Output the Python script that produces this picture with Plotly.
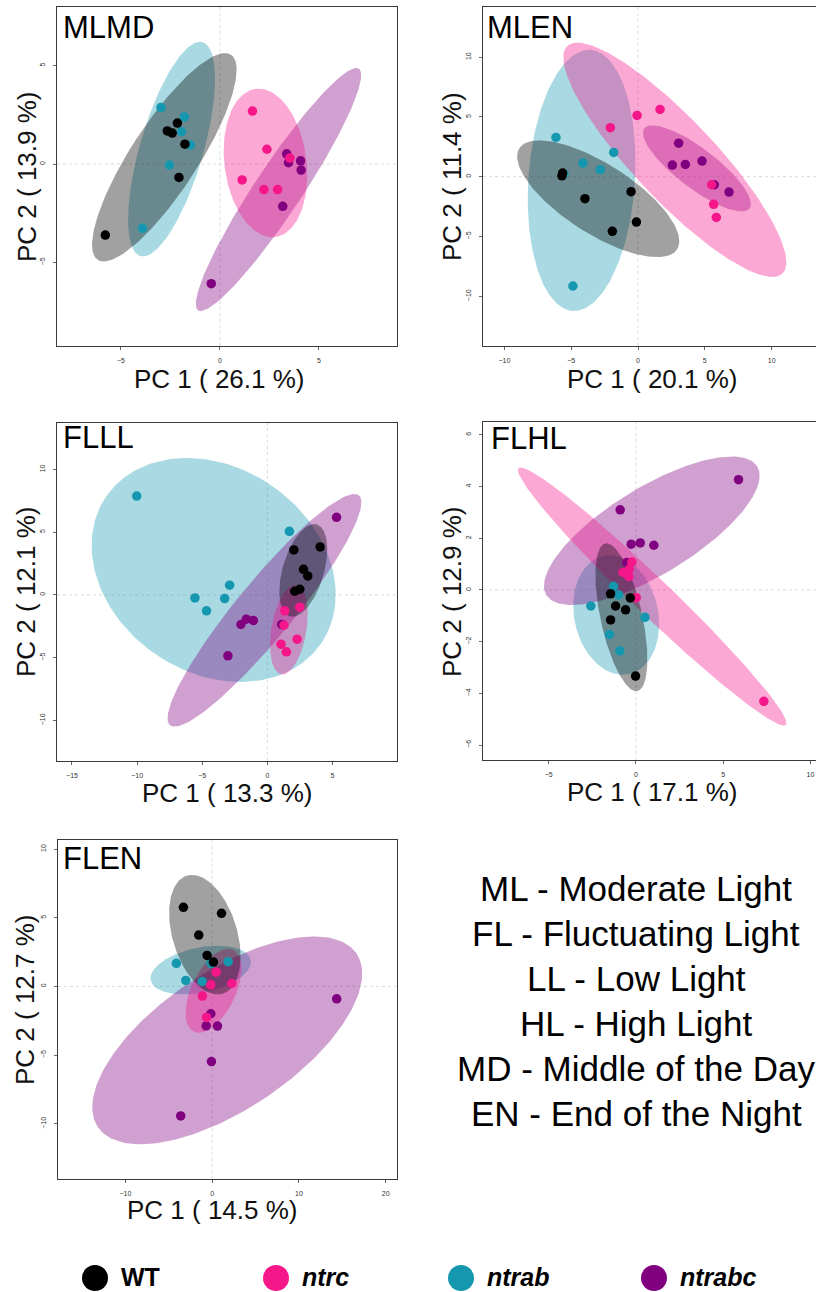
import numpy as np
import plotly.graph_objects as go

W, H = 816, 1292

groups = ["WT", "ntrc", "ntrab", "ntrabc"]
group_colors = {"WT": "#000000", "ntrc": "#F5168A", "ntrab": "#1597B0", "ntrabc": "#800080"}
# groups are drawn in sorted factor order, so WT ends up on top
draw_order = ["ntrab", "ntrabc", "ntrc", "WT"]
FILL_ALPHA = 0.37

panel_names = ["MLMD", "MLEN", "FLLL", "FLHL", "FLEN"]
pc1_var = [26.1, 20.1, 13.3, 17.1, 14.5]
pc2_var = [13.9, 11.4, 12.1, 12.9, 12.7]

# ---- PCA scores (PC1, PC2) per condition and genotype ----
mlmd_wt_x = [-5.79, -2.66, -2.41, -2.15, -1.77, -2.07]
mlmd_wt_y = [-3.61, 1.68, 1.57, 2.08, 1.01, -0.68]
mlmd_ntrc_x = [1.64, 2.37, 1.12, 2.22, 2.91, 3.53]
mlmd_ntrc_y = [2.69, 0.75, -0.81, -1.30, -1.30, 0.30]
mlmd_ntrab_x = [-2.98, -1.80, -1.94, -1.49, -2.55, -3.91]
mlmd_ntrab_y = [2.87, 2.39, 1.64, 0.96, -0.05, -3.27]
mlmd_ntrabc_x = [3.37, 3.46, 4.07, 4.10, 3.17, -0.44]
mlmd_ntrabc_y = [0.52, 0.07, 0.16, -0.31, -2.15, -6.08]

mlen_wt_x = [-5.64, -5.69, -3.97, -1.92, -0.52, -0.12]
mlen_wt_y = [0.31, 0.08, -1.84, -4.57, -1.25, -3.79]
mlen_ntrc_x = [-2.07, -0.07, 1.65, 5.51, 5.66, 5.86]
mlen_ntrc_y = [4.10, 5.13, 5.63, -0.67, -2.31, -3.40]
mlen_ntrab_x = [-6.14, -4.12, -2.82, -1.82, -4.87, -5.54]
mlen_ntrab_y = [3.29, 1.14, 0.59, 2.03, -9.14, 0.25]
mlen_ntrabc_x = [3.04, 2.57, 3.54, 4.79, 5.71, 6.81]
mlen_ntrabc_y = [2.81, 0.98, 1.03, 1.31, -0.67, -1.28]

flll_wt_x = [2.03, 4.05, 2.77, 3.10, 2.10, 2.49]
flll_wt_y = [3.58, 3.82, 2.04, 1.51, 0.29, 0.45]
flll_ntrc_x = [1.33, 2.49, 1.28, 2.28, 1.05, 1.46]
flll_ntrc_y = [-1.27, -0.98, -2.42, -3.53, -3.93, -4.54]
flll_ntrab_x = [-10.03, 1.69, -2.90, -5.56, -3.28, -4.67]
flll_ntrab_y = [7.88, 5.07, 0.77, -0.24, -0.29, -1.27]
flll_ntrabc_x = [5.31, -1.62, -1.08, -2.03, -3.03, 1.10]
flll_ntrabc_y = [6.18, -1.94, -2.04, -2.36, -4.86, -2.36]

flhl_wt_x = [-1.45, -1.16, -0.59, -0.32, -1.45, -0.02]
flhl_wt_y = [-0.15, -0.62, -0.77, -0.31, -1.16, -3.33]
flhl_ntrc_x = [-0.23, -0.38, -0.74, -0.40, 0.02, 7.33]
flhl_ntrc_y = [1.08, 0.80, 0.68, 0.52, -0.30, -4.31]
flhl_ntrab_x = [-1.28, -0.99, -2.58, 0.52, -1.51, -0.92]
flhl_ntrab_y = [0.14, -0.19, -0.62, -1.06, -1.72, -2.36]
flhl_ntrabc_x = [5.88, -0.90, -0.27, 0.25, 1.03, -0.52]
flhl_ntrabc_y = [4.27, 3.10, 1.77, 1.82, 1.73, 1.06]

flen_wt_x = [-3.31, 1.08, -1.54, -0.58, 0.15]
flen_wt_y = [5.76, 5.32, 3.74, 2.26, 1.77]
flen_ntrc_x = [0.46, -0.15, 2.27, -1.12, -0.65]
flen_ntrc_y = [1.04, 0.12, 0.22, -0.70, -2.26]
flen_ntrab_x = [-4.12, -3.04, -1.15, 1.85, -0.12]
flen_ntrab_y = [1.68, 0.44, 0.36, 1.80, 1.68]
flen_ntrabc_x = [14.35, -0.15, -0.69, 0.62, -0.08, -3.62]
flen_ntrabc_y = [-0.90, -1.99, -2.87, -2.89, -5.47, -9.43]

scores = {
    "MLMD": {"WT": (mlmd_wt_x, mlmd_wt_y), "ntrc": (mlmd_ntrc_x, mlmd_ntrc_y),
             "ntrab": (mlmd_ntrab_x, mlmd_ntrab_y), "ntrabc": (mlmd_ntrabc_x, mlmd_ntrabc_y)},
    "MLEN": {"WT": (mlen_wt_x, mlen_wt_y), "ntrc": (mlen_ntrc_x, mlen_ntrc_y),
             "ntrab": (mlen_ntrab_x, mlen_ntrab_y), "ntrabc": (mlen_ntrabc_x, mlen_ntrabc_y)},
    "FLLL": {"WT": (flll_wt_x, flll_wt_y), "ntrc": (flll_ntrc_x, flll_ntrc_y),
             "ntrab": (flll_ntrab_x, flll_ntrab_y), "ntrabc": (flll_ntrabc_x, flll_ntrabc_y)},
    "FLHL": {"WT": (flhl_wt_x, flhl_wt_y), "ntrc": (flhl_ntrc_x, flhl_ntrc_y),
             "ntrab": (flhl_ntrab_x, flhl_ntrab_y), "ntrabc": (flhl_ntrabc_x, flhl_ntrabc_y)},
    "FLEN": {"WT": (flen_wt_x, flen_wt_y), "ntrc": (flen_ntrc_x, flen_ntrc_y),
             "ntrab": (flen_ntrab_x, flen_ntrab_y), "ntrabc": (flen_ntrabc_x, flen_ntrabc_y)},
}

abbreviations = ["ML - Moderate Light", "FL - Fluctuating Light", "LL - Low Light",
                 "HL - High Light", "MD - Middle of the Day", "EN - End of the Night"]

# ---- layout of the five score plots (pixel boxes) and axis ranges ----
boxes = {  # left, top, right, bottom in px
    "MLMD": (57, 7, 397, 346),
    "MLEN": (483, 7, 816, 346),
    "FLLL": (57, 423, 397, 761),
    "FLHL": (483, 422, 816, 760),
    "FLEN": (58, 840, 397, 1179),
}
xranges = {"MLMD": [-8.23, 8.94], "MLEN": [-11.6, 13.32], "FLLL": [-16.15, 9.95],
           "FLHL": [-8.76, 10.32], "FLEN": [-17.76, 21.3]}
yranges = {"MLMD": [-9.25, 7.98], "MLEN": [-14.16, 14.2], "FLLL": [-13.24, 13.7],
           "FLHL": [-6.58, 6.5], "FLEN": [-14.02, 10.66]}
xdticks = {"MLMD": 5, "MLEN": 5, "FLLL": 5, "FLHL": 5, "FLEN": 10}
ydticks = {"MLMD": 5, "MLEN": 5, "FLLL": 5, "FLHL": 2, "FLEN": 5}
xtitle_pos = {"MLMD": (219, 379), "MLEN": (652, 379), "FLLL": (227, 793),
              "FLHL": (652, 792), "FLEN": (212, 1210)}
ytitle_pos = {"MLMD": (27, 177), "MLEN": (452, 177), "FLLL": (26, 592),
              "FLHL": (452, 592), "FLEN": (25, 1000)}
label_pos = {"MLMD": (61, 27), "MLEN": (485, 27), "FLLL": (60.5, 438),
             "FLHL": (488.5, 439), "FLEN": (60.5, 858)}
right_column = {"MLEN", "FLHL"}


def px(x):
    return x / W


def py(y):
    return 1 - y / H


def rgba(hex_color, a):
    h = hex_color.lstrip("#")
    r, g, b = int(h[0:2], 16), int(h[2:4], 16), int(h[4:6], 16)
    return f"rgba({r},{g},{b},{a})"


def conf_ellipse(x, y, level=0.95, n=200):
    """Normal-theory confidence ellipse of the scores (chi-square, 2 df)."""
    pts = np.column_stack([x, y])
    centre = pts.mean(axis=0)
    cov = np.cov(pts, rowvar=False)
    vals, vecs = np.linalg.eigh(cov)
    t = np.sqrt(-2.0 * np.log(1.0 - level))
    ang = np.linspace(0, 2 * np.pi, n)
    circle = np.vstack([np.cos(ang), np.sin(ang)])
    ell = (vecs @ np.diag(np.sqrt(np.maximum(vals, 0)) * t) @ circle).T + centre
    return ell[:, 0], ell[:, 1]


fig = go.Figure()
layout = {}
annotations = []
shapes = []

AXIS_COL = "#3a3a3a"
FONT = "Liberation Sans, Arial, sans-serif"

for i, name in enumerate(panel_names, start=1):
    xa = "x" if i == 1 else f"x{i}"
    ya = "y" if i == 1 else f"y{i}"
    l, t, r, b = boxes[name]

    common = dict(showgrid=False, zeroline=False, showline=True, linecolor=AXIS_COL,
                  linewidth=1, ticks="outside", ticklen=3, tickwidth=1, tickcolor="#666666",
                  tickfont=dict(size=7, color="#333333", family=FONT), tick0=0,
                  ticklabelstandoff=5, fixedrange=True)
    layout["xaxis" if i == 1 else f"xaxis{i}"] = dict(
        common, domain=[px(l), px(r)], range=xranges[name], dtick=xdticks[name],
        anchor=ya, mirror=True)
    layout["yaxis" if i == 1 else f"yaxis{i}"] = dict(
        common, domain=[py(b), py(t)], range=yranges[name], dtick=ydticks[name],
        anchor=xa, tickangle=-90, mirror=(name not in right_column))

    # dotted reference lines through the origin
    shapes.append(dict(type="line", xref=xa, yref=f"{ya} domain", x0=0, x1=0, y0=0, y1=1,
                       line=dict(color="#dadada", width=1, dash="dot"), layer="below"))
    shapes.append(dict(type="line", xref=f"{xa} domain", yref=ya, x0=0, x1=1, y0=0, y1=0,
                       line=dict(color="#dadada", width=1, dash="dot"), layer="below"))

    # 95% confidence ellipses
    for g in draw_order:
        gx, gy = scores[name][g]
        ex, ey = conf_ellipse(gx, gy)
        fig.add_trace(go.Scatter(x=ex, y=ey, xaxis=xa, yaxis=ya, mode="lines",
                                 fill="toself", fillcolor=rgba(group_colors[g], FILL_ALPHA),
                                 line=dict(width=0, color="rgba(0,0,0,0)"),
                                 hoverinfo="skip", showlegend=False))
    # sample scores
    for g in draw_order:
        gx, gy = scores[name][g]
        fig.add_trace(go.Scatter(x=gx, y=gy, xaxis=xa, yaxis=ya, mode="markers",
                                 marker=dict(size=9.5, color=group_colors[g], line=dict(width=0)),
                                 name=g, showlegend=False))

    cx, cy = xtitle_pos[name]
    annotations.append(dict(xref="paper", yref="paper", x=px(cx), y=py(cy),
                            xanchor="center", yanchor="middle", showarrow=False,
                            text=f"PC 1 ( {pc1_var[i - 1]} %)",
                            font=dict(size=26, color="#111111", family=FONT)))
    cx, cy = ytitle_pos[name]
    annotations.append(dict(xref="paper", yref="paper", x=px(cx), y=py(cy),
                            xanchor="center", yanchor="middle", showarrow=False,
                            textangle=-90, text=f"PC 2 ( {pc2_var[i - 1]} %)",
                            font=dict(size=26, color="#111111", family=FONT)))
    cx, cy = label_pos[name]
    annotations.append(dict(xref="paper", yref="paper", x=px(cx), y=py(cy),
                            xanchor="left", yanchor="middle", showarrow=False,
                            text=name, font=dict(size=31, color="#000000", family=FONT)))

# abbreviation key
key_y0, key_step = 888, 45
for k, line in enumerate(abbreviations):
    annotations.append(dict(xref="paper", yref="paper", x=px(636), y=py(key_y0 + k * key_step),
                            xanchor="center", yanchor="middle", showarrow=False, text=line,
                            font=dict(size=35, color="#000000", family=FONT)))

# genotype key along the bottom
key_centres = [95, 276, 461, 654]
key_row, key_r = 1278, 13
for g, cx in zip(groups, key_centres):
    shapes.append(dict(type="circle", xref="paper", yref="paper",
                       x0=px(cx - key_r), x1=px(cx + key_r),
                       y0=py(key_row + key_r), y1=py(key_row - key_r),
                       fillcolor=group_colors[g], line=dict(width=0)))
    label = f"<b>{g}</b>" if g == "WT" else f"<b><i>{g}</i></b>"
    annotations.append(dict(xref="paper", yref="paper", x=px(cx + 25), y=py(key_row - 1),
                            xanchor="left", yanchor="middle", showarrow=False, text=label,
                            borderpad=0, font=dict(size=25, color="#000000", family=FONT)))

fig.update_layout(width=W, height=H, margin=dict(l=0, r=0, t=0, b=0),
                  paper_bgcolor="white", plot_bgcolor="white", showlegend=False,
                  annotations=annotations, shapes=shapes, **layout)

fig.write_html("out.html")
